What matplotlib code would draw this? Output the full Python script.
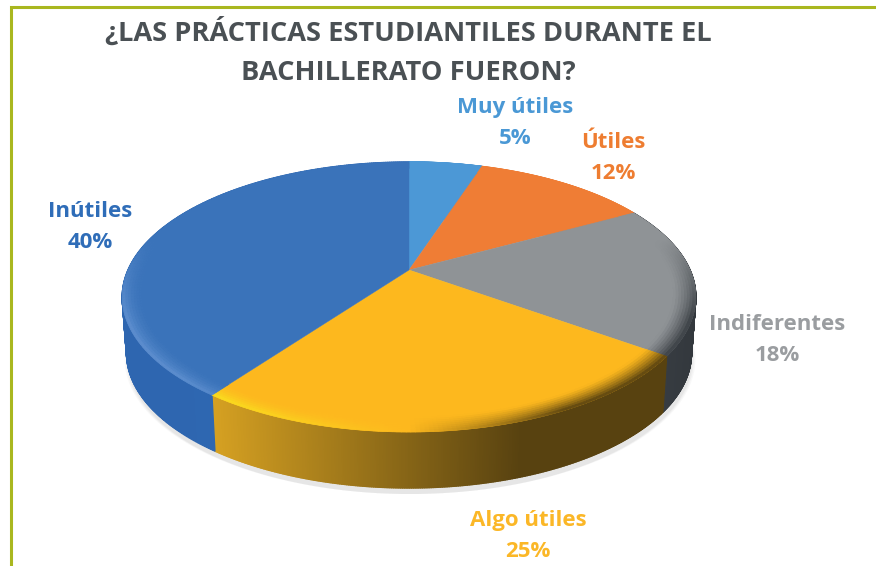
import numpy as np
import matplotlib
matplotlib.use("Agg")
import matplotlib.pyplot as plt
from matplotlib.collections import PolyCollection
from matplotlib.colors import to_rgb

categories = ["Muy útiles", "Útiles", "Indiferentes", "Algo útiles", "Inútiles"]
values = [5, 12, 18, 25, 40]
colors = ["#4C98D6", "#EF7D35", "#8F9396", "#FDB81E", "#3A73BA"]
label_colors = ["#4A98D5", "#EE7D31", "#9A9DA0", "#FBB727", "#2F6DB8"]
wall_left = ["#4C98D6", "#EF7D35", "#3B4046", "#D6A122", "#2E66B0"]
wall_right = ["#4C98D6", "#EF7D35", "#33383D", "#584210", "#2F68B2"]
rim_light = ["#4C98D6", "#EF7D35", "#8F9396", "#F8E91E", "#5F90D0"]
rim_dark = ["#4C98D6", "#EF7D35", "#3A3F44", "#584210", "#2F68B2"]
label_pos = [(515, 123), (613, 158), (777, 340), (528, 536), (90, 227)]
title = "¿LAS PRÁCTICAS ESTUDIANTILES DURANTE EL\nBACHILLERATO FUERON?"

cx, cy = 409, 270
b, a, k = 281, 129.6, 0.2
depth = 56


def project(r, t):
    x = r * np.sin(t)
    y = r * np.cos(t)
    d = 1 + k * y
    return cx + b * x / d, cy - a * y / d


def mix(c1, c2, w):
    c1, c2 = np.array(to_rgb(c1)), np.array(to_rgb(c2))
    return tuple(c1 + (c2 - c1) * w)


fig = plt.figure(figsize=(8.76, 5.66), dpi=100)
ax = fig.add_axes([0, 0, 1, 1])
ax.set_xlim(0, 876)
ax.set_ylim(566, 0)
ax.axis("off")

# marco
ax.plot([11, 11, 876], [566, 7, 7], color="#A9B71F", lw=2.2, solid_joinstyle="miter")

edges = np.radians(np.cumsum([0] + values) * 3.6)

# sombra
t_all = np.linspace(0, 2 * np.pi, 300)
xs, ys = project(1, t_all)
for grow, alpha in [(1.0, 0.05), (0.995, 0.06), (0.99, 0.08)]:
    ax.fill(cx + (xs - cx) * grow * 0.995 + 1, ys + depth + 6, color="#777777", alpha=alpha, lw=0)

# paredes
for i in range(len(values)):
    t = np.linspace(edges[i], edges[i + 1], 300)
    x, y = project(1, t)
    x2 = cx + (x - cx) * 0.985
    y2 = y + depth
    quads, cols = [], []
    for j in range(len(t) - 1):
        quads.append([(x[j], y[j]), (x[j + 1], y[j + 1]), (x2[j + 1], y2[j + 1]), (x2[j], y2[j])])
        # x crece de derecha a izquierda en los sectores frontales
        pos = np.clip((x[j] - x.min()) / max(x.max() - x.min(), 1), 0, 1)
        if i == 3:
            pos = min(pos / 0.68, 1)
        cols.append(mix(wall_left[i], wall_right[i], pos))
    ax.add_collection(PolyCollection(quads, facecolors=cols, edgecolors=cols, linewidths=1.0))

# cara superior
for i in range(len(values)):
    t = np.linspace(edges[i], edges[i + 1], 120)
    x, y = project(1, t)
    ax.fill(np.r_[cx, x], np.r_[cy, y], color=colors[i], lw=0.3)

# bisel del borde
radii = np.linspace(0.925, 1, 9)
for i in range(len(values)):
    t = np.linspace(edges[i], edges[i + 1], 120)
    quads, cols = [], []
    for q in range(len(radii) - 1):
        u = (q + 0.5) / (len(radii) - 1)
        xa, ya = project(radii[q], t)
        xb, yb = project(radii[q + 1], t)
        for j in range(len(t) - 1):
            tm = (t[j] + t[j + 1]) / 2
            strength = np.clip((0.25 - np.cos(tm)) / 0.6, 0, 1)
            side = -np.sin(tm)
            if side > 0:
                w = strength * min(1, side * 1.4) * u ** 2
                c = mix(colors[i], rim_light[i], w)
            else:
                w = strength * min(1, -side * 2.2) * u ** 1.3
                c = mix(colors[i], rim_dark[i], w)
            quads.append([(xa[j], ya[j]), (xa[j + 1], ya[j + 1]), (xb[j + 1], yb[j + 1]), (xb[j], yb[j])])
            cols.append(c)
    ax.add_collection(PolyCollection(quads, facecolors=cols, edgecolors=cols, linewidths=0.5))

ax.text(408.5, 52, title, ha="center", va="center", fontsize=19.6, fontweight="bold",
        family="Open Sans", color="#4A5054", linespacing=1.68)

for name, v, c, p in zip(categories, values, label_colors, label_pos):
    ax.text(p[0], p[1], f"{name}\n{v}%", ha="center", va="center", fontsize=16, fontweight="bold",
            family="Open Sans", color=c, linespacing=1.66)

fig.savefig("out.png", dpi=100)
